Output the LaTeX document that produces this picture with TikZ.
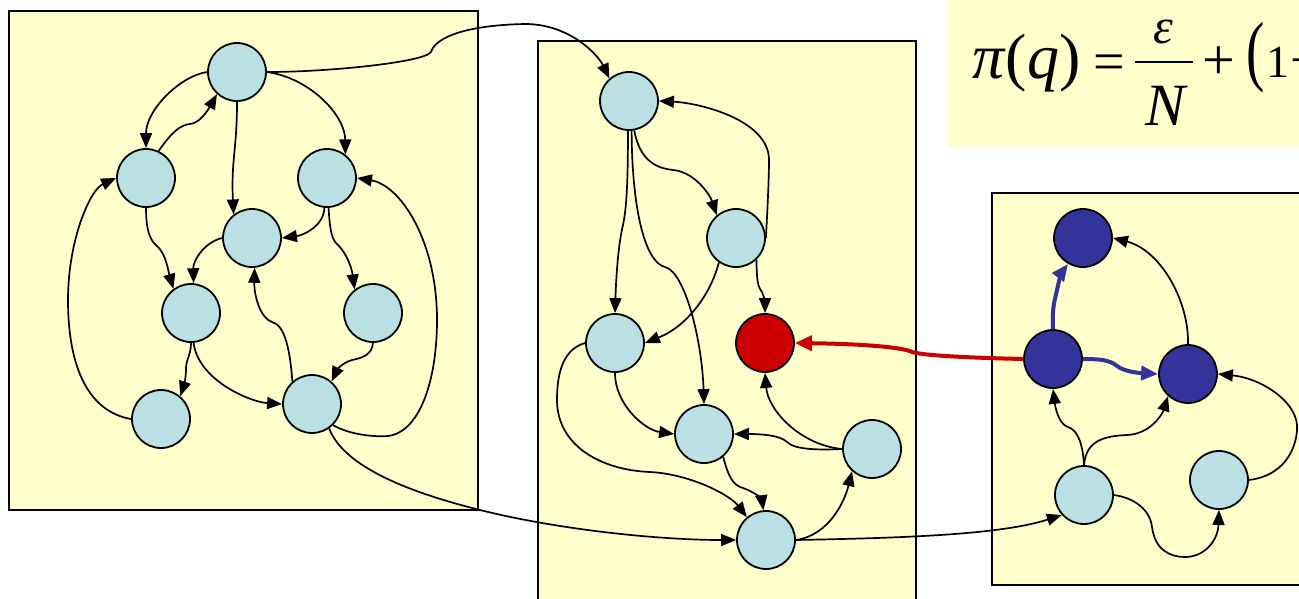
\documentclass[tikz,border=0pt]{standalone}
\usepackage{fontspec}
\setmainfont{Liberation Serif}
\usetikzlibrary{arrows.meta}
\definecolor{paper}{HTML}{FFFFCC}
\definecolor{lblue}{HTML}{BBE0E3}
\definecolor{dblue}{HTML}{333399}
\definecolor{dred}{HTML}{CC0000}
\begin{document}
\begin{tikzpicture}[x=1pt,y=-1pt,
  panel/.style={fill=paper,draw=black,line width=1.8pt},
  lb/.style={circle,draw=black,line width=1.8pt,fill=lblue,minimum size=58pt,inner sep=0pt},
  db/.style={lb,fill=dblue},
  rb/.style={lb,fill=dred},
  arr/.style={-{Triangle[length=15pt,width=12pt]},line width=1.7pt},
  redarr/.style={-{Triangle[length=17pt,width=15pt]},line width=4pt,draw=dred},
  bluearr/.style={-{Triangle[length=17pt,width=14pt]},line width=4pt,draw=dblue},
  ftxt/.style={inner sep=0pt,anchor=base,font=\rmfamily}]
\useasboundingbox (0,0) rectangle (1299,598);
\clip (0,0) rectangle (1299,598);
\fill[white] (0,0) rectangle (1299,598);
% panels
\fill[paper] (947,-10) rectangle (1310,147);
\draw[panel] (9,11) rectangle (478,510);
\draw[panel] (538,41) rectangle (916,620);
\draw[panel] (992,193) rectangle (1320,585);
% formula
\node[ftxt,anchor=base west] (f1) at (972,78) {\fontsize{64}{70}\selectfont\textit{π}(\textit{q})};
\node[ftxt] (f2) at (1109,80) {\fontsize{56}{60}\selectfont =};
\node[ftxt] (f3) at (1163,43) {\fontsize{50}{56}\selectfont\textit{ε}};
\node[ftxt] (f4) at (1167,125) {\fontsize{60}{64}\selectfont\textit{N}};
\coordinate (fb1) at (1135,62);
\coordinate (fb2) at (1193,62);
\draw[line width=2pt] (fb1) -- (fb2);
\node[ftxt] (f5) at (1219,79) {\fontsize{58}{60}\selectfont +};
\node[ftxt] (f6) at (1256,76) {\fontsize{55}{60}\selectfont\scalebox{1}[1.42]{(}};
\node[ftxt,anchor=base west] (f7) at (1266,77) {\fontsize{46}{50}\selectfont 1};
\node[ftxt,anchor=base west] (f8) at (1290,78) {\fontsize{55}{60}\selectfont −};
% nodes panel 1
\node[lb] (A1) at (237,72) {};
\node[lb] (B1) at (146,178) {};
\node[lb] (C1) at (327,178) {};
\node[lb] (D1) at (252,238) {};
\node[lb] (E1) at (191,313) {};
\node[lb] (F1) at (373,313) {};
\node[lb] (G1) at (161,419) {};
\node[lb] (H1) at (312,404) {};
% nodes panel 2
\node[lb] (A2) at (629,101) {};
\node[lb] (B2) at (736,238) {};
\node[lb] (C2) at (615,343) {};
\node[rb] (R2) at (765,343) {};
\node[lb] (D2) at (704,434) {};
\node[lb] (E2) at (872,449) {};
\node[lb] (F2) at (766,540) {};
% nodes panel 3
\node[db] (T3) at (1083,238) {};
\node[db] (M3) at (1053,359) {};
\node[db] (R3) at (1188,374) {};
\node[lb] (L3) at (1084,495) {};
\node[lb] (Q3) at (1219,480) {};
% edges panel 1
\draw[arr] (A1.west) .. controls (180,76) and (146,110) .. (B1.north);
\draw[arr] (B1.65) .. controls (172,132) and (180,125) .. (190,124) .. controls (200,123) and (208,110) .. (A1.228);
\draw[arr] (A1.south) .. controls (237,150) and (231,160) .. (D1.128);
\draw[arr] (A1.east) .. controls (310,78) and (345,115) .. (C1.52);
\draw[arr] (A1.east) .. controls (330,72) and (425,62) .. (431,52) .. controls (436,36) and (470,25) .. (525,24) .. controls (570,24) and (598,55) .. (A2.131);
\draw[arr] (C1.265) .. controls (324,225) and (305,235) .. (D1.east);
\draw[arr] (C1.273) .. controls (330,232) and (332,240) .. (338,245) .. controls (348,255) and (352,270) .. (F1.128);
\draw[arr] (D1.west) .. controls (205,242) and (193,260) .. (E1.85);
\draw[arr] (B1.south) .. controls (146,235) and (152,242) .. (158,247) .. controls (166,255) and (168,270) .. (E1.126);
\draw[arr] (G1.west) .. controls (90,412) and (68,370) .. (68,300) .. controls (68,240) and (90,190) .. (B1.west);
\draw[arr] (H1.131) .. controls (290,350) and (285,325) .. (272,322) .. controls (260,318) and (254,295) .. (D1.275);
\draw[arr] (F1.south) .. controls (372,355) and (362,358) .. (352,360) .. controls (342,363) and (337,370) .. (H1.49);
\draw[arr] (E1.south) .. controls (191,355) and (186,360) .. (186,368) .. controls (186,378) and (184,385) .. (G1.50);
\draw[arr] (E1.275) .. controls (198,380) and (250,402) .. (H1.west);
\draw[arr] (H1.-45) .. controls (350,435) and (375,437) .. (388,436) .. controls (420,432) and (437,380) .. (437,320) .. controls (437,240) and (400,185) .. (C1.east);
\draw[arr] (H1.-55) .. controls (345,470) and (420,495) .. (480,510) .. controls (560,530) and (660,540) .. (F2.west);
% edges panel 2
\draw[arr] (A2.268) .. controls (628,190) and (626,210) .. (623,225) .. controls (618,245) and (616,280) .. (C2.north);
\draw[arr] (A2.275) .. controls (632,210) and (645,262) .. (665,267) .. controls (685,272) and (702,340) .. (D2.north);
\draw[arr] (A2.280) .. controls (640,160) and (655,168) .. (673,170) .. controls (695,172) and (710,195) .. (B2.130);
\draw[arr] (B2.east) .. controls (768,200) and (769,175) .. (769,160) .. controls (769,120) and (700,103) .. (A2.east);
\draw[arr] (B2.235) .. controls (712,290) and (690,325) .. (C2.east);
\draw[arr] (B2.-47) .. controls (757,280) and (757,285) .. (762,292) .. controls (765,298) and (765,305) .. (R2.north);
\draw[arr] (C2.south) .. controls (615,405) and (645,430) .. (D2.west);
\draw[arr] (C2.west) .. controls (560,350) and (557,380) .. (557,400) .. controls (557,445) and (600,470) .. (650,472) .. controls (690,474) and (730,495) .. (F2.130);
\draw[arr] (D2.-50) .. controls (728,475) and (732,485) .. (743,488) .. controls (755,492) and (762,500) .. (F2.95);
\draw[arr] (E2.west) .. controls (820,450) and (795,450) .. (787,442) .. controls (780,435) and (760,434) .. (D2.east);
\draw[arr] (E2.west) .. controls (800,445) and (768,410) .. (R2.south);
\draw[arr] (F2.east) .. controls (830,535) and (845,500) .. (E2.228);
\draw[arr] (F2.east) .. controls (900,538) and (1000,535) .. (L3.222);
% edges panel 3
\draw[redarr] (M3.west) .. controls (980,358) and (925,356) .. (912,352) .. controls (905,348) and (870,344) .. (R2.east);
\draw[bluearr] (M3.north) .. controls (1052,305) and (1055,300) .. (1057,290) .. controls (1059,280) and (1062,272) .. (T3.240);
\draw[bluearr] (M3.east) .. controls (1100,359) and (1110,360) .. (1117,366) .. controls (1125,372) and (1140,373) .. (R3.west);
\draw[arr] (R3.north) .. controls (1189,300) and (1160,250) .. (T3.east);
\draw[arr] (L3.north) .. controls (1083,445) and (1078,430) .. (1068,427) .. controls (1058,424) and (1055,405) .. (M3.south);
\draw[arr] (L3.north) .. controls (1086,440) and (1105,436) .. (1127,435) .. controls (1150,434) and (1162,415) .. (R3.228);
\draw[arr] (L3.east) .. controls (1135,498) and (1150,510) .. (1152,527) .. controls (1155,550) and (1170,557) .. (1185,557) .. controls (1205,557) and (1218,540) .. (Q3.south);
\draw[arr] (Q3.east) .. controls (1290,475) and (1298,440) .. (1297,425) .. controls (1295,400) and (1260,378) .. (R3.east);
\end{tikzpicture}
\end{document}
